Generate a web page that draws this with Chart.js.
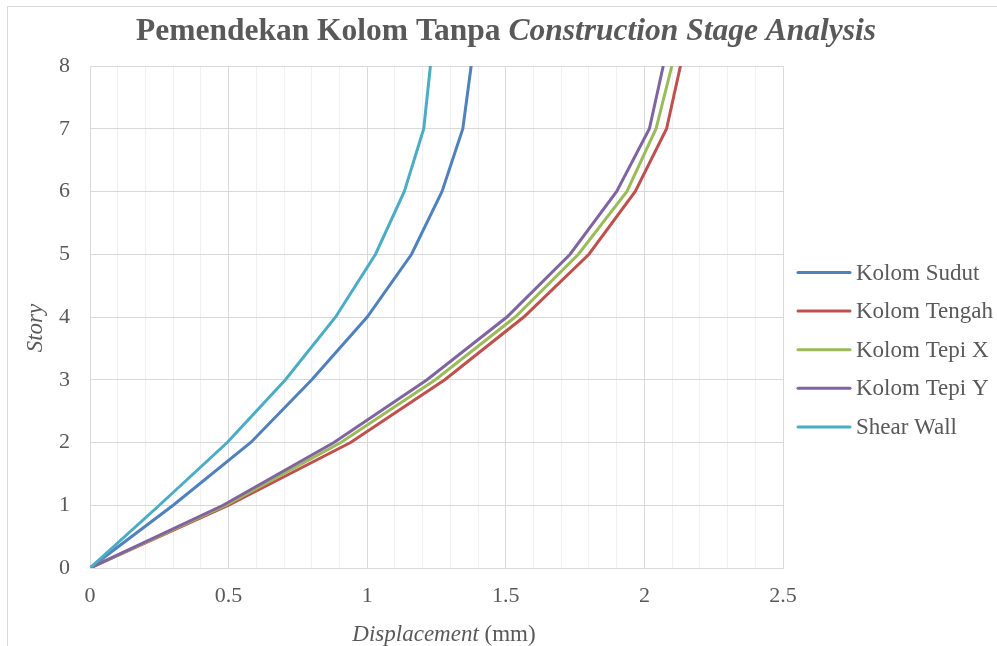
<!DOCTYPE html>
<html>
<head>
<meta charset="utf-8">
<script src="https://cdn.jsdelivr.net/npm/chart.js@4.4.1/dist/chart.umd.min.js"></script>
<style>
  html, body { margin: 0; padding: 0; background: #fff; }
  #chart { display: block; }
</style>
</head>
<body>
<canvas id="chart" width="997" height="646"></canvas>
<script>
// story levels (y) and displacement in mm (x) per series
const stories = [0, 1, 2, 3, 4, 5, 6, 7, 8];
const seriesNames = ["Kolom Sudut", "Kolom Tengah", "Kolom Tepi X", "Kolom Tepi Y", "Shear Wall"];
const kolomSudut  = [0, 0.30, 0.58, 0.80, 1.00, 1.16, 1.27, 1.345, 1.375];
const kolomTengah = [0, 0.50, 0.94, 1.28, 1.565, 1.80, 1.967, 2.08, 2.13];
const kolomTepiX  = [0, 0.49, 0.905, 1.246, 1.534, 1.762, 1.937, 2.042, 2.099];
const kolomTepiY  = [0, 0.48, 0.88, 1.216, 1.504, 1.732, 1.90, 2.018, 2.068];
const shearWall   = [0, 0.25, 0.495, 0.705, 0.886, 1.03, 1.134, 1.204, 1.228];
const xTicks = [0, 0.5, 1, 1.5, 2, 2.5];
const yTicks = [0, 1, 2, 3, 4, 5, 6, 7, 8];

const colors = ["#4F81BD", "#C0504D", "#9BBB59", "#8064A2", "#4BACC6"];
const allSeries = [kolomSudut, kolomTengah, kolomTepiX, kolomTepiY, shearWall];
const textColor = "#595959";
const serif = "'Liberation Serif', 'Times New Roman', serif";

function toPoints(values) {
  return values.map((v, i) => ({ x: v, y: stories[i] }));
}

// excel draws later series on top, chart.js the opposite -> use order
const datasets = allSeries.map((vals, i) => ({
  label: seriesNames[i],
  data: toPoints(vals),
  borderColor: colors[i],
  backgroundColor: colors[i],
  borderWidth: 3,
  pointRadius: 0,
  showLine: true,
  tension: 0,
  order: allSeries.length - i
}));

// frame, title, axis titles and legend are drawn by hand
const decorations = {
  id: "decorations",
  beforeDraw(chart) {
    const ctx = chart.ctx;
    ctx.save();
    ctx.fillStyle = "#fff";
    ctx.fillRect(0, 0, chart.width, chart.height);
    ctx.strokeStyle = "#d9d9d9";
    ctx.lineWidth = 1;
    ctx.strokeRect(7.5, 6.5, chart.width + 10, chart.height + 10);
    ctx.restore();
  },
  afterDraw(chart) {
    const ctx = chart.ctx;
    ctx.save();
    ctx.fillStyle = textColor;
    ctx.textBaseline = "alphabetic";

    // title
    const t1 = "Pemendekan Kolom Tanpa ";
    const t2 = "Construction Stage Analysis";
    ctx.font = "bold 31.5px " + serif;
    const w1 = ctx.measureText(t1).width;
    ctx.font = "italic bold 31.5px " + serif;
    const w2 = ctx.measureText(t2).width;
    let tx = 506 - (w1 + w2) / 2;
    ctx.font = "bold 31.5px " + serif;
    ctx.textAlign = "left";
    ctx.fillText(t1, tx, 40);
    ctx.font = "italic bold 31.5px " + serif;
    ctx.fillText(t2, tx + w1, 40);

    // x axis title
    const a1 = "Displacement";
    const a2 = " (mm)";
    ctx.font = "italic 23px " + serif;
    const aw1 = ctx.measureText(a1).width;
    ctx.font = "23px " + serif;
    const aw2 = ctx.measureText(a2).width;
    let ax = 444 - (aw1 + aw2) / 2;
    ctx.font = "italic 23px " + serif;
    ctx.fillText(a1, ax, 641);
    ctx.font = "23px " + serif;
    ctx.fillText(a2, ax + aw1, 641);

    // y axis title
    ctx.save();
    ctx.translate(42, 328);
    ctx.rotate(-Math.PI / 2);
    ctx.font = "italic 23px " + serif;
    ctx.textAlign = "center";
    ctx.fillText("Story", 0, 0);
    ctx.restore();

    // legend
    ctx.font = "23px " + serif;
    ctx.textAlign = "left";
    ctx.textBaseline = "middle";
    chart.data.datasets.forEach((ds, i) => {
      const y = 272.5 + i * 38.6;
      ctx.strokeStyle = ds.borderColor;
      ctx.lineWidth = 3;
      ctx.lineCap = "round";
      ctx.beginPath();
      ctx.moveTo(798, y);
      ctx.lineTo(850, y);
      ctx.stroke();
      ctx.fillText(ds.label, 856, y + 1);
    });
    ctx.restore();
  }
};

const isMajor = (v) => Math.abs(Math.round(v * 10) % 5) === 0;

new Chart(document.getElementById("chart"), {
  type: "scatter",
  data: { datasets: datasets },
  options: {
    responsive: false,
    devicePixelRatio: 1,
    animation: false,
    layout: { padding: { top: 66, right: 214, left: 0, bottom: 0 } },
    plugins: {
      legend: { display: false },
      title: { display: false },
      tooltip: { enabled: false }
    },
    scales: {
      x: {
        type: "linear",
        min: xTicks[0],
        max: xTicks[xTicks.length - 1],
        afterFit: (scale) => { scale.height = 78; },
        ticks: {
          stepSize: 0.1,
          autoSkip: false,
          maxRotation: 0,
          padding: 15,
          color: textColor,
          font: { family: serif, size: 22 },
          callback: (v) => {
            const hit = xTicks.find(t => Math.abs(t - v) < 1e-6);
            return hit === undefined ? "" : String(hit);
          }
        },
        grid: {
          drawTicks: false,
          lineWidth: 1,
          color: (c) => isMajor(c.tick.value) ? "#d9d9d9" : "#f0f0f0"
        },
        border: { color: "#d9d9d9", width: 1 }
      },
      y: {
        type: "linear",
        min: yTicks[0],
        max: yTicks[yTicks.length - 1],
        afterFit: (scale) => { scale.width = 90; },
        ticks: {
          stepSize: 1,
          padding: 20,
          color: textColor,
          font: { family: serif, size: 22 }
        },
        grid: { drawTicks: false, color: "#d9d9d9", lineWidth: 1 },
        border: { color: "#d9d9d9", width: 1 }
      }
    }
  },
  plugins: [decorations]
});
</script>
</body>
</html>
